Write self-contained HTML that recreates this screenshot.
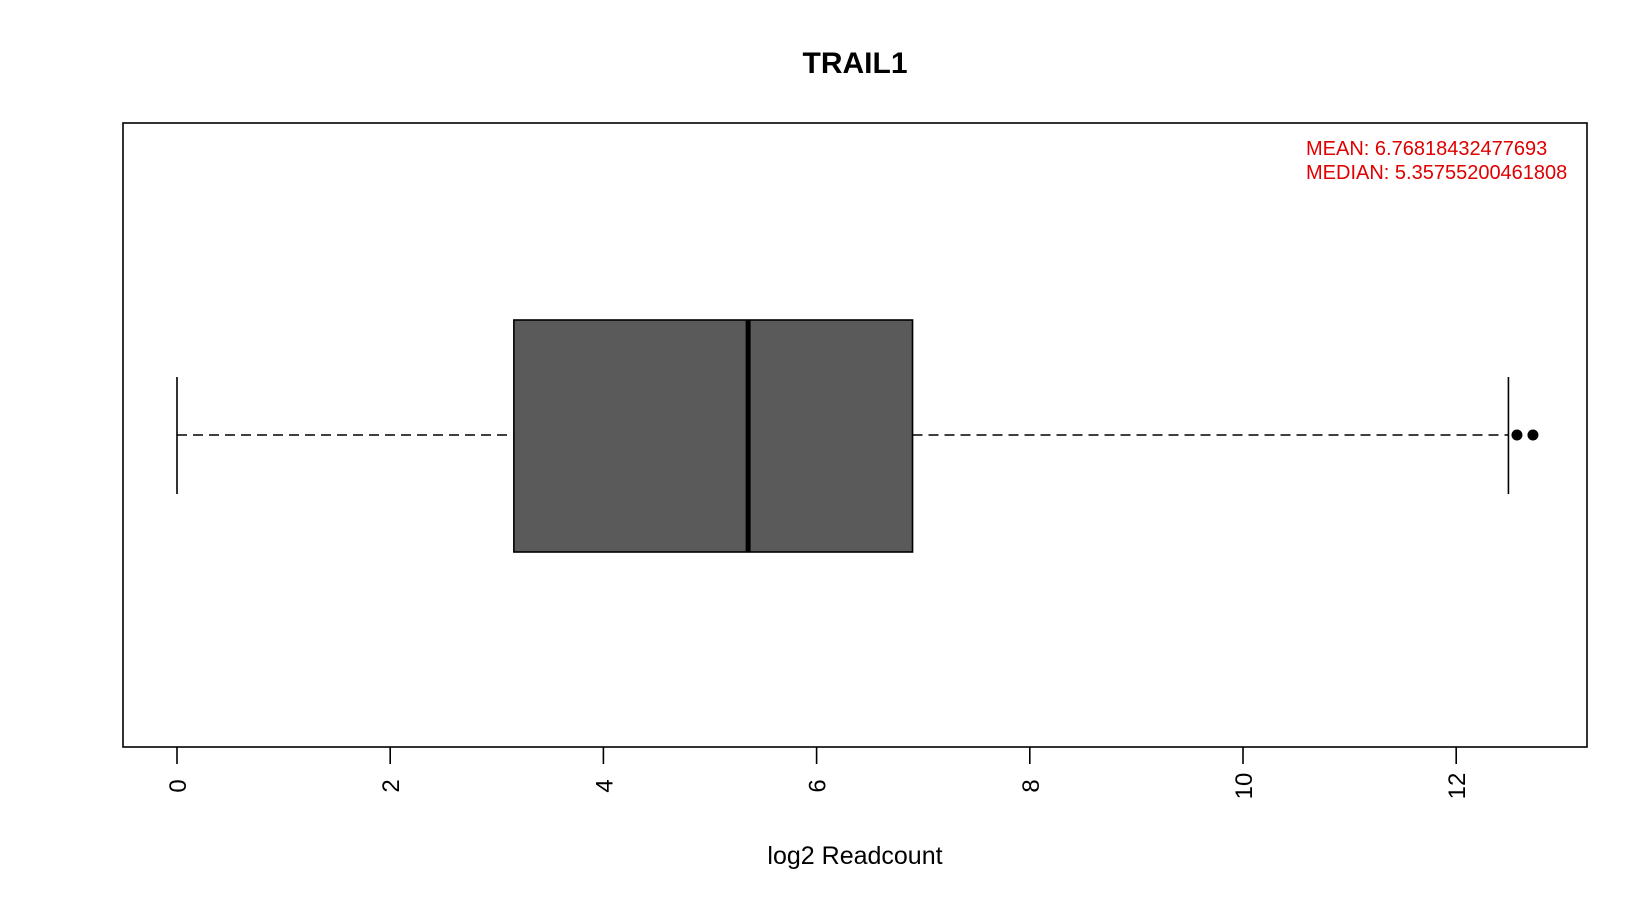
<!DOCTYPE html>
<html><head><meta charset="utf-8"><style>
html,body{margin:0;padding:0;background:#fff;}
svg{display:block;font-family:"Liberation Sans",Arial,sans-serif;}
</style></head><body>
<svg id="chart" width="1650" height="900" viewBox="0 0 1650 900">
<text x="855" y="73" text-anchor="middle" font-size="30" font-weight="bold">TRAIL1</text>
<rect x="123" y="123" width="1464" height="624" fill="none" stroke="#000" stroke-width="1.6"/>
<text x="1306" y="155" font-size="20" fill="#e00000">MEAN: 6.76818432477693</text>
<text x="1306" y="179" font-size="20" fill="#e00000">MEDIAN: 5.35755200461808</text>
<g id="marks"></g>
<g id="axis"></g>
<text x="855" y="864" text-anchor="middle" font-size="25">log2 Readcount</text>
</svg>
<script>
const stats = [0, 3.16, 5.3576, 6.90, 12.49]; // lower whisker, Q1, median, Q3, upper whisker
const outliers = [12.57, 12.72];
const ticks = [0, 2, 4, 6, 8, 10, 12];
const NS = "http://www.w3.org/2000/svg";
function x(v){ return 177 + 106.6 * v; }
const yc = 435, boxTop = 320, boxBot = 552, capTop = 377, capBot = 494;
function mk(tag, attrs, parent){
  const e = document.createElementNS(NS, tag);
  for (const k in attrs) e.setAttribute(k, attrs[k]);
  parent.appendChild(e); return e;
}
const g = document.getElementById('marks');
let e;
e = mk('line', {x1:x(stats[0]), x2:x(stats[1]), y1:yc, y2:yc, stroke:'#000', 'stroke-width':1.6, 'stroke-dasharray':'10 6'}, g);


e = mk('line', {x1:x(stats[3]), x2:x(stats[4]), y1:yc, y2:yc, stroke:'#000', 'stroke-width':1.6, 'stroke-dasharray':'10 6'}, g);


e = mk('line', {x1:x(stats[0]), x2:x(stats[0]), y1:capTop, y2:capBot, stroke:'#000', 'stroke-width':1.6}, g);


e = mk('line', {x1:x(stats[4]), x2:x(stats[4]), y1:capTop, y2:capBot, stroke:'#000', 'stroke-width':1.6}, g);


e = mk('rect', {x:x(stats[1]), y:boxTop, width:x(stats[3])-x(stats[1]), height:boxBot-boxTop, fill:'#5a5a5a', stroke:'#000', 'stroke-width':1.6}, g);


e = mk('line', {x1:x(stats[2]), x2:x(stats[2]), y1:boxTop, y2:boxBot, stroke:'#000', 'stroke-width':5}, g);


outliers.forEach(v => {
  const c = mk('circle', {cx:x(v), cy:yc, r:5.5, fill:'#000'}, g);
  
  
});
const a = document.getElementById('axis');
ticks.forEach(t => {
  const l = mk('line', {x1:x(t), x2:x(t), y1:747, y2:764, stroke:'#000', 'stroke-width':1.6}, a);
  
  
  const tx = mk('text', {x:0, y:0, 'font-size':24, 'text-anchor':'middle', transform:'translate(' + (x(t)+9) + ',786) rotate(-90)'}, a);
  tx.textContent = t;
  
  
});
</script>
</body></html>
